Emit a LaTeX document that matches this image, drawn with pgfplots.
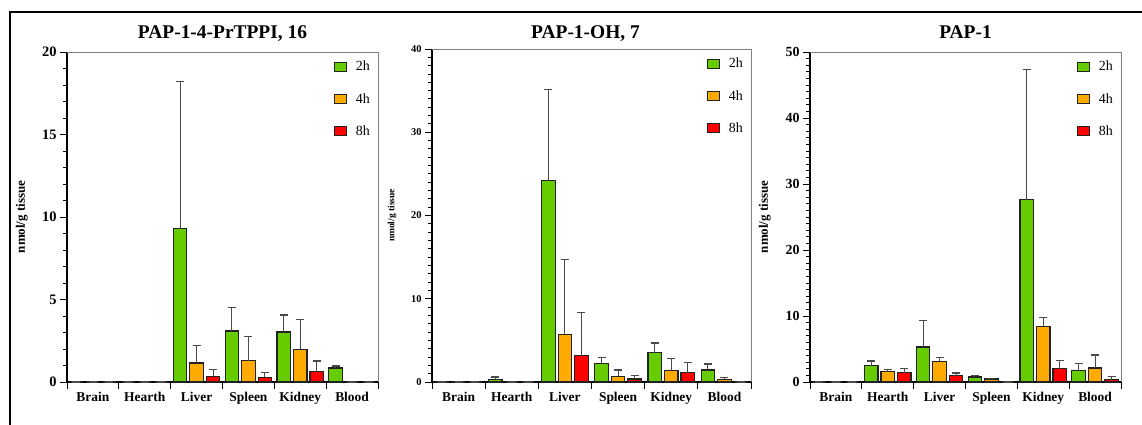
\documentclass[border=0pt]{standalone}
\usepackage{fontspec}
\setmainfont{Liberation Serif}
\usepackage{pgfplots}
\usepackage{pgfplotstable}
\pgfplotsset{compat=1.18}
\definecolor{cg}{HTML}{66CC00}
\definecolor{co}{HTML}{FFAA00}
\definecolor{cr}{HTML}{FF0000}
\definecolor{edge}{HTML}{222222}
\definecolor{errc}{HTML}{4A4A4A}

% columns: value and upper error for 2h (a), 4h (b), 8h (c)
\pgfplotstableread{
x a ea b eb c ec
0 0 0 0 0 0 0
1 0 0 0 0 0 0
2 9.28 8.92 1.15 1.07 0.36 0.39
3 3.09 1.45 1.29 1.45 0.28 0.31
4 3.03 1.03 1.98 1.81 0.63 0.64
5 0.85 0.12 0 0 0 0
}\tA
\pgfplotstableread{
x a ea b eb c ec
0 0 0 0 0 0 0
1 0.32 0.28 0 0 0 0
2 24.17 10.93 5.73 8.97 3.13 5.17
3 2.24 0.73 0.68 0.76 0.36 0.44
4 3.53 1.16 1.36 1.44 1.12 1.20
5 1.44 0.72 0.32 0.24 0 0
}\tB
\pgfplotstableread{
x a ea b eb c ec
0 0 0 0 0 0 0
1 2.47 0.71 1.56 0.36 1.41 0.66
2 5.30 3.98 3.13 0.60 0.96 0.40
3 0.76 0.20 0.45 0.10 0 0
4 27.65 19.65 8.43 1.36 2.02 1.26
5 1.72 1.11 2.12 1.97 0.35 0.46
}\tC

\pgfplotsset{
 panel/.style={
   scale only axis, anchor=south west,
   xmin=-0.5, xmax=5.5, ymin=0,
   xtick={-0.5,0.5,...,5.5}, x tick label as interval,
   xticklabels={Brain,Hearth,Liver,Spleen,Kidney,Blood},
   axis lines*=left, axis line style={-, black, line width=1.1bp},
   tick align=outside, major tick length=7bp, minor tick length=4bp,
   tick style={black, line width=0.9bp},
   xticklabel style={font=\fontsize{13.5}{15}\selectfont\bfseries},
   yticklabel style={/pgf/number format/assume math mode=true},
   ylabel={nmol/g tissue},
   title style={at={(axis description cs:0.5,1)}, anchor=base, yshift=8bp, font=\fontsize{19.5}{21}\selectfont\bfseries},
   legend style={at={(1,1)}, anchor=north east, xshift=-3bp, yshift=-5bp, draw=none, fill=none, font=\fontsize{14}{16}\selectfont, row sep=17bp},
   legend cell align=left,
   clip=false,
 },
 mybar/.style={ybar, bar width=13.5bp, bar shift=0pt, draw=edge, line width=1.1bp,
   legend image code/.code={\draw[##1] (0bp,-4.5bp) rectangle (12bp,4.5bp); \path (19bp,0bp);},
   /pgfplots/error bars/y dir=plus, /pgfplots/error bars/y explicit,
   /pgfplots/error bars/error bar style={errc, line width=1.1bp},
   /pgfplots/error bars/error mark options={errc, rotate=90, mark size=4bp, line width=1.1bp}},
}

\begin{document}
\begin{tikzpicture}
\useasboundingbox (0,0) rectangle (1142bp,425bp);
\draw[line width=1.8bp] (10bp,-2bp) -- (10bp,413bp) -- (1144bp,413bp);

\begin{axis}[panel, at={(67bp,43bp)}, width=311bp, height=330bp,
  ymax=20, ytick={0,5,...,20}, minor y tick num=4,
  title={PAP-1-4-PrTPPI, 16},
  yticklabel style={font=\fontsize{14.5}{16}\selectfont\bfseries},
  ylabel style={at={(axis description cs:-0.145,0.5)}, anchor=center, font=\fontsize{13}{15}\selectfont\bfseries}]
\addplot[fill=cg, mybar] table[x expr=\thisrow{x}-0.318, y=a, y error plus=ea] {\tA};
\addplot[fill=co, mybar] table[x=x, y=b, y error plus=eb] {\tA};
\addplot[fill=cr, mybar] table[x expr=\thisrow{x}+0.318, y=c, y error plus=ec] {\tA};
\legend{2h,4h,8h}
\draw[gray, line width=0.9bp] (rel axis cs:0,1) -- (rel axis cs:1,1) -- (rel axis cs:1,0);
\end{axis}

\begin{axis}[panel, at={(432bp,43bp)}, width=319bp, height=333bp,
  ymax=40, ytick={0,10,...,40}, minor y tick num=9,
  title={PAP-1-OH, 7}, title style={xshift=-6bp, yshift=-3bp},
  yticklabel style={font=\fontsize{10.5}{12}\selectfont\bfseries},
  ylabel style={at={(axis description cs:-0.125,0.5)}, anchor=center, font=\fontsize{9.5}{11}\selectfont\bfseries}]
\addplot[fill=cg, mybar] table[x expr=\thisrow{x}-0.31, y=a, y error plus=ea] {\tB};
\addplot[fill=co, mybar] table[x=x, y=b, y error plus=eb] {\tB};
\addplot[fill=cr, mybar] table[x expr=\thisrow{x}+0.31, y=c, y error plus=ec] {\tB};
\legend{2h,4h,8h}
\draw[gray, line width=0.9bp] (rel axis cs:0,1) -- (rel axis cs:1,1) -- (rel axis cs:1,0);
\end{axis}

\begin{axis}[panel, at={(810bp,43bp)}, width=311bp, height=330bp,
  ymax=50, ytick={0,10,...,50}, minor y tick num=9,
  title={PAP-1},
  yticklabel style={font=\fontsize{14}{16}\selectfont\bfseries},
  ylabel style={at={(axis description cs:-0.145,0.5)}, anchor=center, font=\fontsize{13}{15}\selectfont\bfseries}]
\addplot[fill=cg, mybar] table[x expr=\thisrow{x}-0.318, y=a, y error plus=ea] {\tC};
\addplot[fill=co, mybar] table[x=x, y=b, y error plus=eb] {\tC};
\addplot[fill=cr, mybar] table[x expr=\thisrow{x}+0.318, y=c, y error plus=ec] {\tC};
\legend{2h,4h,8h}
\draw[gray, line width=0.9bp] (rel axis cs:0,1) -- (rel axis cs:1,1) -- (rel axis cs:1,0);
\end{axis}
\end{tikzpicture}
\end{document}
